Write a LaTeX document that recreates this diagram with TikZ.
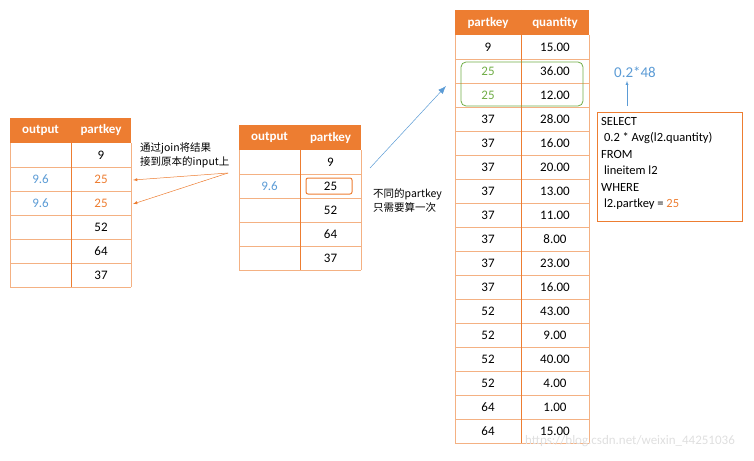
\documentclass[tikz,border=0pt]{standalone}
\usepackage{fontspec}
\usetikzlibrary{arrows.meta}
\setmainfont{Carlito}
\newfontfamily\cjk{Noto Sans CJK SC}
\definecolor{hdr}{HTML}{ED7D31}
\definecolor{grd}{HTML}{F4B183}
\definecolor{blu}{HTML}{5B9BD5}
\definecolor{grn}{HTML}{70AD47}
\begin{document}
\begin{tikzpicture}[x=1pt,y=-1pt,font=\fontsize{13}{15}\selectfont,
  hd/.style={font=\fontsize{13}{15}\selectfont\bfseries,text=white},
  cl/.style={inner sep=0pt}]
\useasboundingbox (0,0) rectangle (754,460);
\newcommand{\tbl}[6]{%
  \fill[hdr] (#1,#4) rectangle (#3,#4+25);
  \foreach \i in {1,...,#5} {\draw[grd,line width=0.6pt] (#1,#4+25+\i*24) -- (#3,#4+25+\i*24);}
  \draw[grd,line width=0.6pt] (#1,#4+25) -- (#1,#4+25+#5*24) (#3,#4+25) -- (#3,#4+25+#5*24);
  \draw[hdr,line width=0.8pt] (#2,#4) -- (#2,#4+25+#5*24);
}
% left table
\tbl{10}{71}{131}{118}{6}{L}
\node[hd] (lh1) at (40.5,130) {output};
\node[hd] (lh2) at (101,130) {partkey};
\foreach \v/\c [count=\k] in {9/black,25/hdr,25/hdr,52/black,64/black,37/black}
  \node[cl,text=\c] (lr\k) at (101,131+\k*24) {\v};
\node[cl,text=blu] (lo2) at (40.5,179) {9.6};
\node[cl,text=blu] (lo3) at (40.5,203) {9.6};
% middle table
\tbl{239}{300}{361}{125}{5}{M}
\node[hd] (mh1) at (269.5,137.5) {output};
\node[hd] (mh2) at (330.5,137.5) {partkey};
\foreach \v [count=\k] in {9,25,52,64,37}
  \node[cl] (mr\k) at (330.5,138+\k*24) {\v};
\node[cl,text=blu] (mo2) at (269.5,186) {9.6};
\draw[hdr,rounded corners=2pt,line width=1pt] (306,178) rectangle (352,194);
% right table
\tbl{455}{521}{589}{10}{17}{R}
\node[hd] (rh1) at (488,22.5) {partkey};
\node[hd] (rh2) at (555,22.5) {quantity};
\foreach \p/\q/\c [count=\k] in {9/15.00/black,25/36.00/grn,25/12.00/grn,37/28.00/black,37/16.00/black,37/20.00/black,37/13.00/black,37/11.00/black,37/8.00/black,37/23.00/black,37/16.00/black,52/43.00/black,52/9.00/black,52/40.00/black,52/4.00/black,64/1.00/black,64/15.00/black}
  {\node[cl,text=\c] (rp\k) at (488,23+\k*24) {\p};
   \node[cl] (rq\k) at (555,23+\k*24) {\q};}
\draw[grn,rounded corners=5pt,line width=0.8pt] (461,62) rectangle (583,106);
% SQL
\node[draw=hdr,line width=0.8pt,minimum width=145pt,minimum height=109pt,inner sep=0pt] (sqlbox) at (669.5,166.5) {};
\node[anchor=north west,align=left,inner sep=0pt,font=\fontsize{12.5}{16.5}\selectfont] (sql) at (601,117)
 {SELECT\\\ 0.2 * Avg(l2.quantity)\\FROM\\\ lineitem l2\\WHERE\\\ l2.partkey = \textcolor{hdr}{25}};
\node[text=blu,font=\fontsize{15}{17}\selectfont] (res) at (635,72) {0.2*48};
\coordinate (sqtop) at (627,106);
\draw[blu,-latex] (sqtop) -- (res.south -| sqtop);
% arrows
\coordinate (bs) at (370,168);
\coordinate (be) at (446,86);
\draw[blu,line width=0.5pt,-{Latex[length=8pt,width=6pt]}] (bs) -- (be);
\node[anchor=north west,align=left,inner sep=0pt,font=\cjk\fontsize{10.5}{14}\selectfont] (t2) at (373,188) {不同的partkey\\只需要算一次};
\coordinate (os) at (228,173);
\draw[hdr,line width=0.5pt,-latex] (os) -- (133,180);
\draw[hdr,line width=0.5pt,-latex] (os) -- (133,204);
\node[anchor=north west,align=left,inner sep=0pt,font=\cjk\fontsize{10.5}{14}\selectfont] (t1) at (140,142) {通过join将结果\\接到原本的input上};
\node[text=gray!25,font=\fontsize{13}{14}\selectfont] (wm) at (630,441) {https://blog.csdn.net/weixin\_44251036};
\end{tikzpicture}
\end{document}
